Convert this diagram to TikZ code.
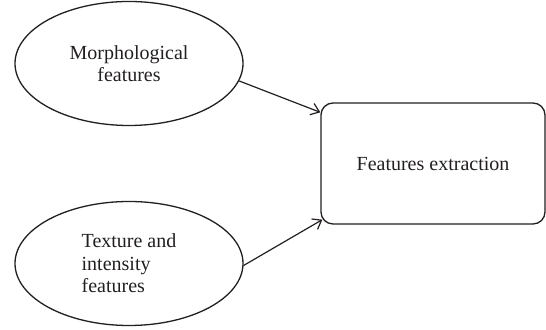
\documentclass[tikz,border=0pt]{standalone}
\usepackage{fontspec}
\setmainfont{Liberation Serif}
\usetikzlibrary{shapes.geometric,arrows.meta}
\definecolor{ink}{RGB}{35,31,32}

\tikzset{
	feat/.style={ellipse, draw=ink, line width=0.65pt, minimum width=114pt, minimum height=62pt, inner sep=0pt, text=ink},
	extractbox/.style={draw=ink, line width=0.65pt, rounded corners=6pt, minimum width=112pt, minimum height=60.5pt, text=ink},
	link/.style={draw=ink, line width=0.6pt, -{Straight Barb[length=4pt,width=6pt]}}
}

\begin{document}
\begin{tikzpicture}[x=0.5pt, y=-0.5pt, font=\fontsize{10}{11.2}\selectfont]
	\useasboundingbox (0,0) rectangle (546,330);
	\node[feat, align=center] (morph) at (129,63.5) {Morphological\\features};
	\node[feat, align=left] (texture) at (129,263.5) {Texture and\\intensity\\features};
	\node[extractbox] (extract) at (433,163.5) {Features extraction};
	\draw[link] (morph.-9) -- ([yshift=-5pt]extract.north west);
	\draw[link] (texture.-1) -- ([xshift=1pt,yshift=2.5pt]extract.south west);
\end{tikzpicture}
\end{document}
